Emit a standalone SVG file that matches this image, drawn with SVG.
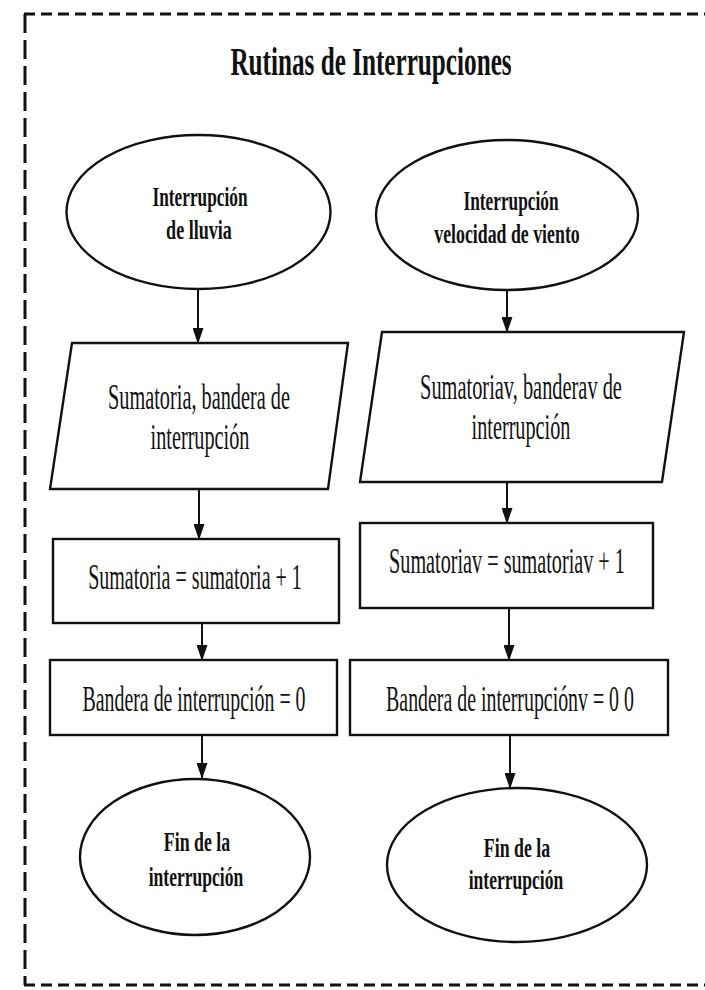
<svg xmlns="http://www.w3.org/2000/svg" width="705" height="990" viewBox="0 0 705 990">
<defs>
<style>
.bd{stroke:#111;stroke-width:3;fill:none}
.sh{fill:#fff;stroke:#111;stroke-width:2.4}
.el{fill:#fff;stroke:#111;stroke-width:2.4}
.t{font-family:"Liberation Serif","Times New Roman",serif;fill:#111;text-anchor:middle}
.r{font-size:36px}
.b{font-weight:bold;font-size:27px}
.tt{font-weight:bold;font-size:40px}
.ct{stroke:#111;stroke-width:2;fill:none;marker-end:url(#ah)}
</style>
<marker id="ah" markerWidth="16" markerHeight="11" refX="15" refY="5.5" orient="auto" markerUnits="userSpaceOnUse" viewBox="0 0 16 11">
<path d="M0,0 L16,5.5 L0,11 Z" fill="#111"/>
</marker>
</defs>
<rect width="705" height="990" fill="#fff"/>
<g id="border">
<line class="bd" x1="24" y1="14" x2="705" y2="14" stroke-dasharray="11,6"/>
<line class="bd" x1="25" y1="14" x2="25" y2="985" stroke-dasharray="19,7"/>
<line class="bd" x1="24" y1="985" x2="705" y2="985" stroke-dasharray="11,6"/>
</g>
<text id="title" class="t tt" transform="translate(371 75) scale(0.63 1)">Rutinas de Interrupciones</text>
<g id="connectors">
<line class="ct" x1="198" y1="289" x2="198" y2="343"/>
<line class="ct" x1="507" y1="290" x2="507" y2="332"/>
<line class="ct" x1="199" y1="489" x2="199" y2="539"/>
<line class="ct" x1="507" y1="482" x2="507" y2="523"/>
<line class="ct" x1="202" y1="623" x2="202" y2="660"/>
<line class="ct" x1="509" y1="608" x2="509" y2="660"/>
<line class="ct" x1="202" y1="735" x2="202" y2="778"/>
<line class="ct" x1="510" y1="735" x2="510" y2="788"/>
</g>
<g id="start-lluvia">
<ellipse class="el" cx="198.5" cy="212" rx="132" ry="77"/>
<text class="t b" transform="translate(200 206) scale(0.64 1)">Interrupción</text>
<text class="t b" transform="translate(199 239) scale(0.67 1)">de lluvia</text>
</g>
<g id="start-viento">
<ellipse class="el" cx="507" cy="215" rx="131" ry="75"/>
<text class="t b" transform="translate(511 210) scale(0.64 1)">Interrupción</text>
<text class="t b" transform="translate(507 243) scale(0.66 1)">velocidad de viento</text>
</g>
<g id="io-lluvia">
<polygon class="sh" points="72,343 348,343 328,489 50,489"/>
<text class="t r" transform="translate(199 409) scale(0.564 1)">Sumatoria, bandera de</text>
<text class="t r" transform="translate(200 449) scale(0.562 1)">interrupción</text>
</g>
<g id="io-viento">
<polygon class="sh" points="382,332 684,332 662,482 360,482"/>
<text class="t r" transform="translate(521 399) scale(0.566 1)">Sumatoriav, banderav de</text>
<text class="t r" transform="translate(521 439) scale(0.562 1)">interrupción</text>
</g>
<g id="sum-lluvia">
<rect class="sh" x="53" y="539" width="286" height="84"/>
<text class="t r" transform="translate(195 589) scale(0.556 1)">Sumatoria = sumatoria + 1</text>
</g>
<g id="sum-viento">
<rect class="sh" x="360" y="523" width="293" height="85"/>
<text class="t r" transform="translate(507 573) scale(0.561 1)">Sumatoriav = sumatoriav + 1</text>
</g>
<g id="flag-lluvia">
<rect class="sh" x="50" y="660" width="287" height="75"/>
<text class="t r" transform="translate(194 711) scale(0.552 1)">Bandera de interrupción = 0</text>
</g>
<g id="flag-viento">
<rect class="sh" x="350" y="660" width="318" height="75"/>
<text class="t r" transform="translate(510 711) scale(0.552 1)">Bandera de interrupciónv = 0 0</text>
</g>
<g id="end-lluvia">
<ellipse class="el" cx="195" cy="857" rx="115" ry="78"/>
<text class="t b" transform="translate(197 851) scale(0.66 1)">Fin de la</text>
<text class="t b" transform="translate(196 886) scale(0.65 1)">interrupción</text>
</g>
<g id="end-viento">
<ellipse class="el" cx="517" cy="865" rx="130" ry="77"/>
<text class="t b" transform="translate(517 857) scale(0.66 1)">Fin de la</text>
<text class="t b" transform="translate(516 889) scale(0.65 1)">interrupción</text>
</g>
</svg>
